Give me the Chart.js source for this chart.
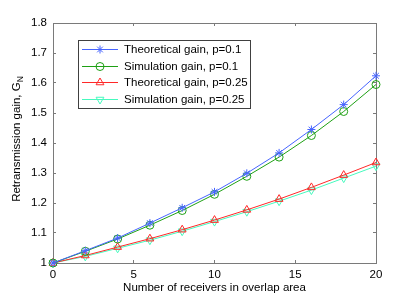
<!DOCTYPE html>
<html>
<head>
<meta charset="utf-8">
<script src="https://cdn.jsdelivr.net/npm/chart.js@4/dist/chart.umd.min.js"></script>
<style>
  html, body { margin: 0; padding: 0; background: #fff; }
  canvas { display: block; }
</style>
</head>
<body>
<canvas id="gainChart" width="415" height="296"></canvas>
<script>
// receivers in overlap area
var receivers = [0, 2, 4, 6, 8, 10, 12, 14, 16, 18, 20];

var theoGain01 = [1.0, 1.041, 1.083, 1.133, 1.184, 1.237, 1.299, 1.367, 1.445, 1.528, 1.624];
var simGain01  = [1.0, 1.039, 1.080, 1.126, 1.175, 1.229, 1.289, 1.353, 1.425, 1.505, 1.595];
var theoGain025 = [1.0, 1.025, 1.053, 1.081, 1.111, 1.143, 1.177, 1.213, 1.252, 1.293, 1.335];
var simGain025  = [1.0, 1.022, 1.049, 1.076, 1.106, 1.138, 1.171, 1.206, 1.243, 1.283, 1.323];

var seriesLabels = ['Theoretical gain, p=0.1', 'Simulation gain, p=0.1',
                    'Theoretical gain, p=0.25', 'Simulation gain, p=0.25'];
var xTicks = [0, 5, 10, 15, 20];
var yTicks = [1, 1.1, 1.2, 1.3, 1.4, 1.5, 1.6, 1.7, 1.8];

var FONT = '"Liberation Sans", Arial, Helvetica, sans-serif';
var FSIZE = 11.5;
var AXIS_GRAY = '#7a7a7a';

function toPoints(ys) {
    return receivers.map((x, i) => ({ x: x, y: ys[i] }));
}

function makeSet(label, ys, color, style, rot, radius) {
    return {
        label: label,
        data: toPoints(ys),
        borderColor: color,
        backgroundColor: 'rgba(0,0,0,0)',
        borderWidth: 1,
        pointStyle: style,
        pointRotation: rot,
        pointRadius: radius,
        pointBorderColor: color,
        pointBorderWidth: 1,
        pointBackgroundColor: 'rgba(0,0,0,0)',
        tension: 0,
        clip: 8 // let the end markers spill over the axes
    };
}

// matlab style axis: border line + short ticks pointing inwards
function boxAxis(extra) {
    return Object.assign({
        grid: {
            display: true,
            drawOnChartArea: false,
            drawTicks: true,
            tickLength: -3,
            color: AXIS_GRAY,
            lineWidth: 1
        },
        border: { display: true, color: AXIS_GRAY, width: 1 }
    }, extra);
}

// y title with subscript N, and the legend box inside the plot
var titleAndLegend = {
    id: 'titleAndLegend',
    afterDraw(chart) {
        const c = chart.ctx;
        c.save();
        const main = 'Retransmission gain, G';
        c.translate(16, 139);
        c.rotate(-Math.PI / 2);
        c.fillStyle = '#000';
        c.font = FSIZE + 'px ' + FONT;
        const w1 = c.measureText(main).width;
        c.font = '8.5px ' + FONT;
        const w2 = c.measureText('N').width;
        const start = -(w1 + w2) / 2;
        c.textBaseline = 'alphabetic';
        c.textAlign = 'left';
        c.font = FSIZE + 'px ' + FONT;
        c.fillText(main, start, 4);
        c.font = '8.5px ' + FONT;
        c.fillText('N', start + w1, 7);
        c.restore();

        const left = 78, top = 40, width = 172, height = 68;
        c.save();
        c.fillStyle = '#fff';
        c.fillRect(left, top, width, height);
        c.strokeStyle = '#404040';
        c.lineWidth = 1;
        c.strokeRect(left + 0.5, top + 0.5, width, height);
        c.font = FSIZE + 'px ' + FONT;
        c.textBaseline = 'middle';
        chart.data.datasets.forEach((ds, i) => {
            const y = Math.round(49 + i * 16.7) + 0.5;
            c.strokeStyle = ds.borderColor;
            c.beginPath();
            c.moveTo(82, y);
            c.lineTo(118, y);
            c.stroke();
            c.fillStyle = 'rgba(0,0,0,0)';
            Chart.helpers.drawPoint(c, {
                pointStyle: ds.pointStyle,
                rotation: ds.pointRotation,
                radius: ds.pointRadius,
                borderWidth: 1
            }, 100, y);
            c.fillStyle = '#000';
            c.fillText(ds.label, 124, y + 0.5);
        });
        c.restore();
    }
};

var ctx = document.getElementById('gainChart').getContext('2d');
new Chart(ctx, {
    type: 'line',
    data: {
        datasets: [
            makeSet(seriesLabels[0], theoGain01, 'rgb(70,100,255)', 'star', 0, 4),
            makeSet(seriesLabels[1], simGain01, 'rgb(30,160,20)', 'circle', 0, 4),
            makeSet(seriesLabels[2], theoGain025, 'rgb(255,40,40)', 'triangle', 0, 4.5),
            makeSet(seriesLabels[3], simGain025, 'rgb(70,250,190)', 'triangle', 180, 4.5)
        ]
    },
    options: {
        responsive: false,
        animation: false,
        layout: { padding: 0 },
        plugins: {
            legend: { display: false },
            tooltip: { enabled: false },
            title: { display: false }
        },
        scales: {
            x: boxAxis({
                type: 'linear',
                position: 'bottom',
                min: 0,
                max: 20,
                afterFit: s => { s.height = 33; },
                afterBuildTicks: s => { s.ticks = xTicks.map(v => ({ value: v })); },
                ticks: {
                    color: '#000',
                    font: { family: FONT, size: FSIZE },
                    padding: 8,
                    maxRotation: 0
                },
                title: {
                    display: true,
                    text: 'Number of receivers in overlap area',
                    color: '#000',
                    font: { family: FONT, size: FSIZE },
                    padding: { top: 0, bottom: 1 }
                }
            }),
            xTop: boxAxis({
                type: 'linear',
                position: 'top',
                min: 0,
                max: 20,
                afterFit: s => { s.height = 23; },
                afterBuildTicks: s => { s.ticks = xTicks.map(v => ({ value: v })); },
                ticks: { display: false }
            }),
            y: boxAxis({
                position: 'left',
                min: 1,
                max: 1.8,
                afterFit: s => { s.width = 53; },
                afterBuildTicks: s => { s.ticks = yTicks.map(v => ({ value: v })); },
                ticks: {
                    color: '#000',
                    font: { family: FONT, size: FSIZE },
                    padding: 9,
                    callback: v => String(Math.round(v * 10) / 10)
                }
            }),
            yRight: boxAxis({
                type: 'linear',
                position: 'right',
                min: 1,
                max: 1.8,
                afterFit: s => { s.width = 39; },
                afterBuildTicks: s => { s.ticks = yTicks.map(v => ({ value: v })); },
                ticks: { display: false }
            })
        }
    },
    plugins: [titleAndLegend]
});
</script>
</body>
</html>
